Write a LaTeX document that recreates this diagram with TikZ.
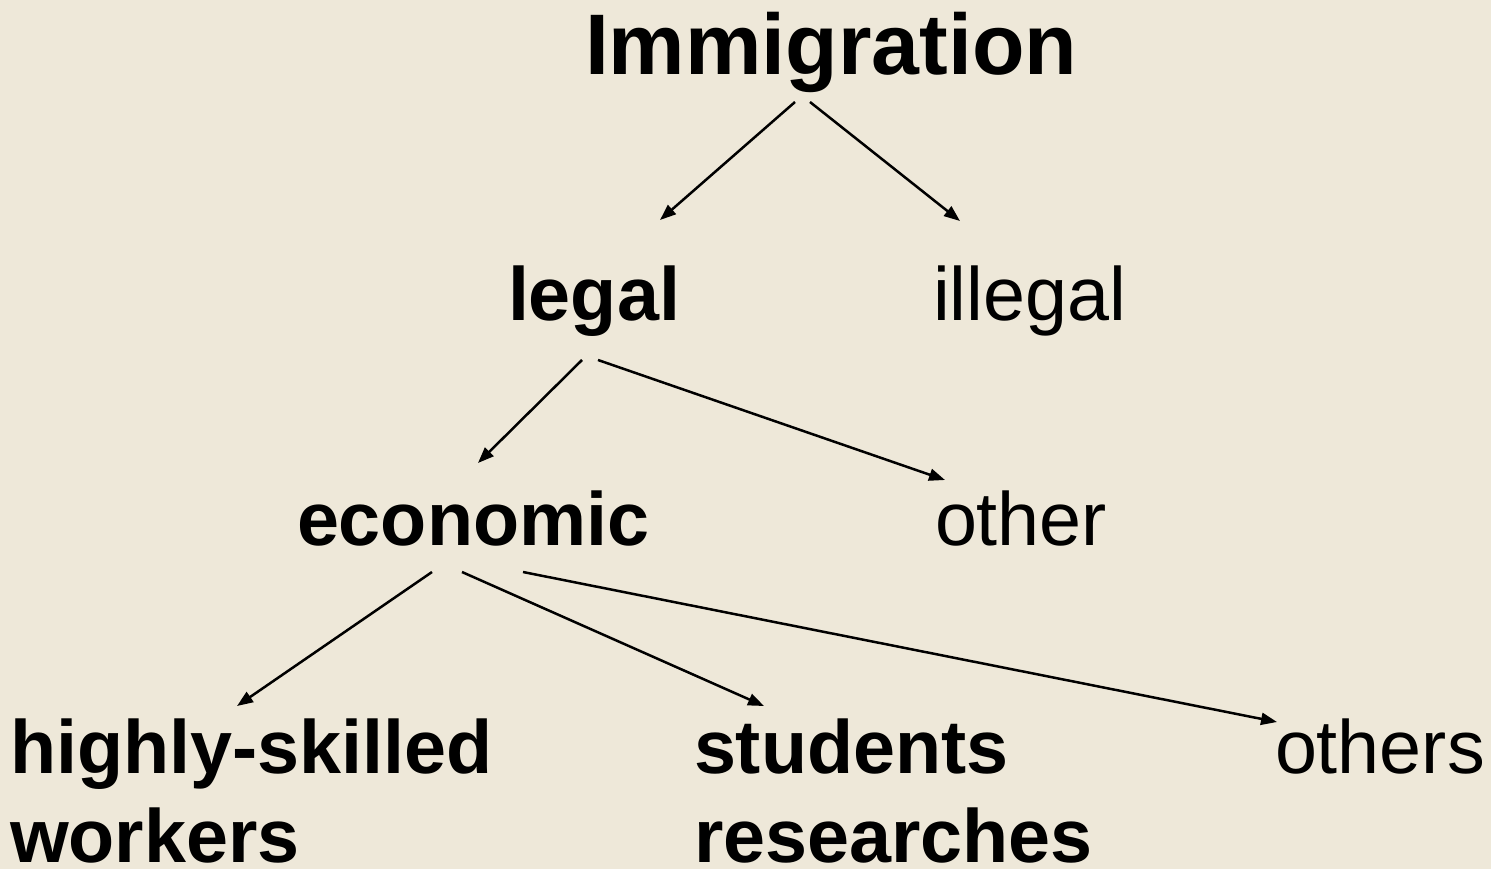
\documentclass[tikz,border=0pt]{standalone}
\usepackage{fontspec}
\setmainfont{Liberation Sans}
\usetikzlibrary{arrows.meta,calc}
\definecolor{bg}{HTML}{EEE8D9}
\tikzset{
  lbl/.style={anchor=base west,inner sep=0pt,outer sep=0pt,font=\fontsize{75.5}{89}\selectfont},
  blbl/.style={lbl,font=\fontsize{75.5}{89}\selectfont\bfseries},
  arr/.style={line width=2.5pt,-{Triangle[length=16pt,width=12pt]}},
}
\newcommand{\twoline}[2]{\vtop{\hbox{#1}\hbox{#2}}}
\begin{document}
\begin{tikzpicture}[x=1pt,y=-1pt]
\fill[bg] (0,0) rectangle (1491,869);
\useasboundingbox (0,0) rectangle (1491,869);
\node[blbl,font=\fontsize{86}{100}\selectfont\bfseries] (imm) at (585,75) {Immigration};
\node[blbl] (legal) at (508,320) {legal};
\node[lbl] (illegal) at (933,320) {illegal};
\node[blbl] (econ) at (297,545) {economic};
\node[lbl] (other) at (935,545) {other};
\node[blbl] (hs) at (10,773) {\twoline{highly-skilled}{workers}};
\node[blbl] (stud) at (694,773) {\twoline{students}{researches}};
\node[lbl] (others) at (1275,773) {others};
\draw[arr] ($(imm.base west)+(210,27)$) -- ($(legal.base west)+(152,-100)$);
\draw[arr] ($(imm.base west)+(225,27)$) -- ($(illegal.base west)+(27,-99)$);
\draw[arr] ($(legal.base west)+(74,40)$) -- ($(econ.base west)+(181,-82)$);
\draw[arr] ($(legal.base west)+(90,40)$) -- ($(other.base west)+(10,-65)$);
\draw[arr] ($(econ.base west)+(135,27)$) -- ($(hs.base west)+(227,-67)$);
\draw[arr] ($(econ.base west)+(165,27)$) -- ($(stud.base west)+(70,-67)$);
\draw[arr] ($(econ.base west)+(226,27)$) -- ($(others.base west)+(2,-51)$);
\end{tikzpicture}
\end{document}
